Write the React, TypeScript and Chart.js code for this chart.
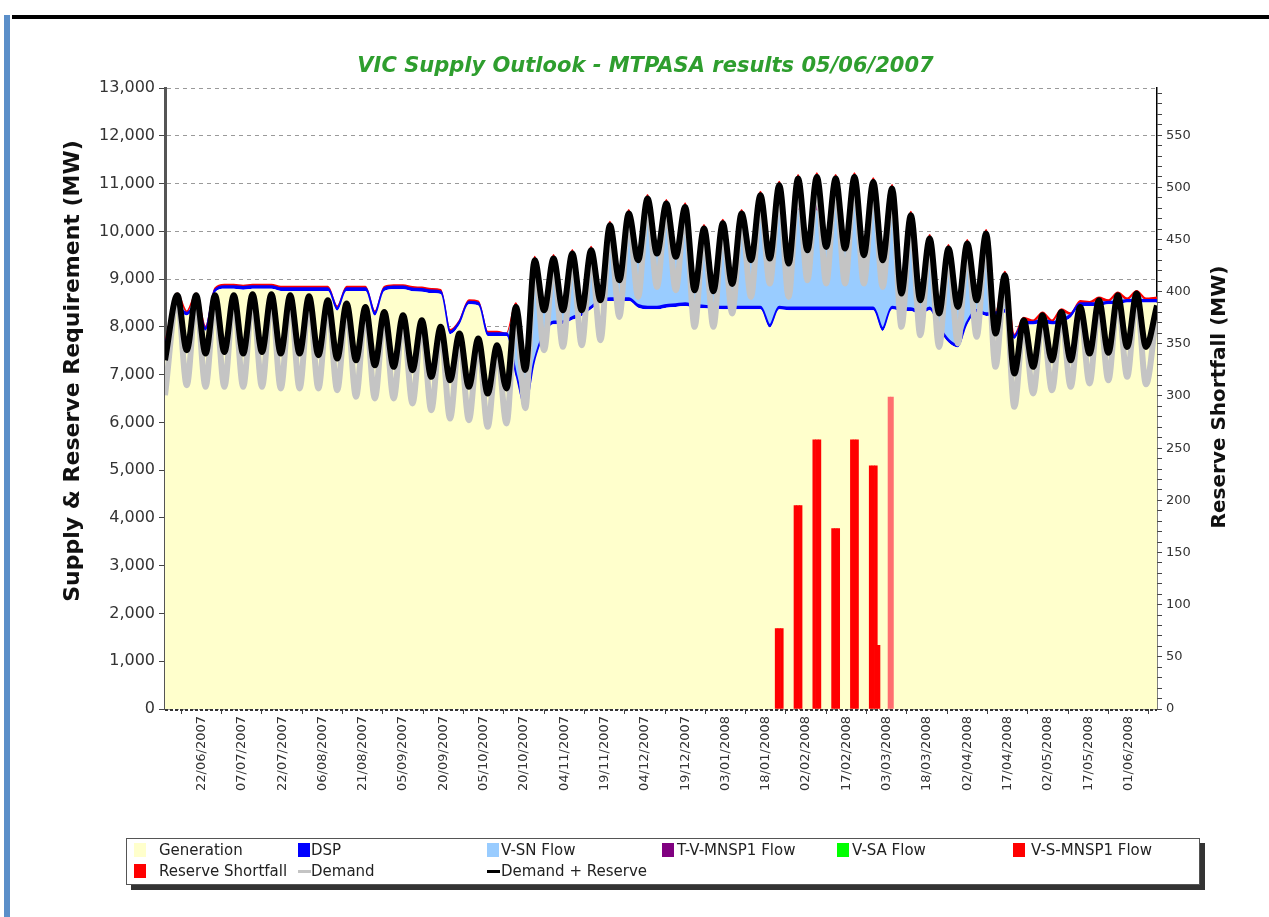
import React, { useEffect, useRef } from 'react';
import { Chart, registerables } from 'chart.js';

Chart.register(...registerables);

// Day index: 0 = 22/06/2007. Two readings per week: weekend trough, mid-week peak.
const pointDays = [
  -13.6, -9, -5.5, -2, 1.5, 5, 8.5, 12, 15.5, 19,
  22.5, 26, 29.5, 33, 36.5, 40, 43.5, 47, 50.5, 54,
  57.5, 61, 64.5, 68, 71.5, 75, 78.5, 82, 85.5, 89,
  92.5, 96, 99.5, 103, 106.5, 110, 113.5, 117, 120.5, 124,
  127.5, 131, 134.5, 138, 141.5, 145, 148.5, 152, 155.5, 159,
  162.5, 166, 169.5, 173, 176.5, 180, 183.5, 187, 190.5, 194,
  197.5, 201, 204.5, 208, 211.5, 215, 218.5, 222, 225.5, 229,
  232.5, 236, 239.5, 243, 246.5, 250, 253.5, 257, 260.5, 264,
  267.5, 271, 274.5, 278, 281.5, 285, 288.5, 292, 295.5, 299,
  302.5, 306, 309.5, 313, 316.5, 320, 323.5, 327, 330.5, 334,
  337.5, 341, 344.5, 348, 351.5, 355.6,
];

const generation = [
  7570, 8350, 8240, 8400, 7920, 8720, 8800, 8800, 8780, 8800,
  8800, 8800, 8755, 8755, 8755, 8755, 8755, 8755, 8343, 8755,
  8755, 8755, 8238, 8755, 8790, 8790, 8750, 8740, 8710, 8690,
  7850, 8050, 8475, 8450, 7813, 7813, 7813, 6950, 6280, 7250,
  7820, 8057, 8057, 8150, 8232, 8370, 8510, 8545, 8545, 8545,
  8405, 8370, 8370, 8405, 8420, 8440, 8405, 8390, 8380, 8370,
  8370, 8370, 8370, 8370, 7987, 8370, 8350, 8350, 8350, 8350,
  8350, 8350, 8350, 8350, 8350, 8350, 7918, 8370, 8336, 8336,
  8250, 8350, 7950, 7673, 7569, 8050, 8301, 8232, 8250, 8300,
  7750, 8050, 8050, 8100, 8050, 8100, 8200, 8440, 8440, 8440,
  8475, 8475, 8510, 8510, 8510, 8510,
];

const dsp = [
  50, 50, 50, 50, 50, 50, 50, 50, 50, 50,
  50, 50, 50, 50, 50, 50, 50, 50, 50, 50,
  50, 50, 50, 50, 50, 50, 50, 50, 50, 50,
  50, 50, 50, 50, 50, 50, 50, 50, 50, 50,
  50, 50, 50, 50, 50, 50, 50, 50, 50, 50,
  50, 50, 50, 50, 50, 50, 50, 50, 50, 50,
  50, 50, 50, 50, 50, 50, 50, 50, 50, 50,
  50, 50, 50, 50, 50, 50, 50, 50, 50, 50,
  50, 50, 50, 50, 50, 50, 50, 50, 50, 50,
  50, 50, 50, 50, 50, 50, 50, 50, 50, 50,
  50, 50, 50, 50, 50, 50,
];

const vsnFlow = [
  0, 265, 0, 215, 0, 0, 0, 0, 0, 0,
  0, 0, 0, 0, 0, 0, 0, 0, 0, 0,
  0, 0, 0, 0, 0, 0, 0, 0, 0, 0,
  0, 0, 0, 0, 0, 0, 0, 1420, 770, 1998,
  481, 1326, 244, 1338, 69, 1187, 0, 1535, 384, 1780,
  943, 1869, 1118, 2129, 1000, 2024, 315, 1621, 320, 1750,
  480, 1955, 978, 1988, 1396, 2047, 928, 2057, 1207, 2042,
  1276, 2157, 1242, 2142, 1103, 2087, 1430, 2028, 314, 1854,
  260, 1451, 282, 1919, 801, 1497, 209, 1524, 0, 734,
  0, 40, 0, 96, 0, 166, 0, 0, 0, 70,
  0, 140, 0, 140, 0, 0,
];

const tvMnsp1Flow = [
  0, 0, 0, 0, 0, 0, 0, 0, 0, 0,
  0, 0, 0, 0, 0, 0, 0, 0, 0, 0,
  0, 0, 0, 0, 0, 0, 0, 0, 0, 0,
  0, 0, 0, 0, 0, 0, 0, 0, 0, 0,
  0, 0, 0, 0, 0, 0, 0, 0, 0, 0,
  0, 400, 0, 0, 0, 0, 0, 0, 0, 0,
  0, 0, 0, 350, 0, 500, 0, 650, 0, 700,
  0, 550, 0, 600, 0, 550, 0, 450, 0, 100,
  0, 0, 0, 0, 0, 150, 0, 0, 0, 0,
  0, 0, 0, 0, 0, 0, 0, 0, 0, 0,
  0, 0, 0, 0, 0, 0,
];

const vsaFlow = [
  0, 0, 0, 0, 0, 0, 0, 0, 0, 0,
  0, 0, 0, 0, 0, 0, 0, 0, 0, 0,
  0, 0, 0, 0, 0, 0, 0, 0, 0, 0,
  0, 0, 0, 0, 0, 0, 0, 0, 0, 100,
  0, 0, 0, 0, 0, 0, 0, 0, 0, 0,
  0, 0, 0, 0, 0, 0, 0, 0, 0, 0,
  0, 0, 0, 0, 0, 0, 0, 0, 0, 0,
  0, 0, 0, 0, 0, 0, 0, 0, 0, 0,
  0, 0, 0, 0, 0, 0, 0, 150, 0, 0,
  0, 0, 0, 0, 0, 0, 0, 0, 0, 0,
  0, 0, 0, 0, 0, 0,
];

const vsMnsp1Flow = [
  40, 40, 40, 40, 40, 40, 40, 40, 40, 40,
  40, 40, 40, 40, 40, 40, 40, 40, 40, 40,
  40, 40, 40, 40, 40, 40, 40, 40, 40, 40,
  40, 40, 40, 40, 40, 40, 0, 80, 0, 80,
  0, 80, 0, 80, 0, 80, 0, 80, 0, 80,
  0, 80, 0, 80, 0, 80, 0, 80, 0, 80,
  0, 80, 0, 80, 0, 80, 0, 80, 0, 80,
  0, 80, 0, 80, 0, 80, 0, 80, 0, 80,
  0, 80, 0, 80, 0, 80, 0, 80, 0, 80,
  40, 60, 40, 60, 40, 60, 40, 60, 40, 60,
  40, 60, 40, 60, 40, 60,
];

const demand = [
  6572, 8605, 6781, 8605, 6747, 8605, 6747, 8605, 6747, 8626,
  6747, 8626, 6712, 8605, 6712, 8584, 6712, 8500, 6677, 8430,
  6537, 8360, 6503, 8256, 6503, 8186, 6398, 8082, 6258, 7942,
  6084, 7803, 6049, 7698, 5909, 7559, 5979, 8360, 6300, 9338,
  7514, 9373, 7584, 9478, 7619, 9547, 7723, 10070, 8211, 10315,
  8630, 10629, 8839, 10524, 8770, 10454, 8002, 10001, 8002, 10110,
  8282, 10315, 8630, 10698, 8909, 10907, 8630, 11047, 8979, 11082,
  8909, 11047, 8909, 11082, 8909, 10977, 8839, 10838, 8002, 10280,
  7828, 9791, 7583, 9582, 7654, 9687, 7793, 9896, 7165, 9024,
  6327, 8082, 6607, 8186, 6677, 8256, 6747, 8360, 6817, 8500,
  6886, 8605, 6956, 8640, 6800, 8390,
];

const demandPlusReserve = [
  7305, 8665, 7514, 8665, 7444, 8665, 7478, 8665, 7444, 8686,
  7478, 8686, 7444, 8665, 7444, 8644, 7409, 8560, 7340, 8490,
  7305, 8420, 7200, 8316, 7165, 8246, 7095, 8142, 6956, 8002,
  6886, 7863, 6747, 7758, 6607, 7619, 6712, 8420, 7100, 9398,
  8351, 9433, 8351, 9538, 8351, 9607, 8560, 10130, 8979, 10375,
  9398, 10689, 9538, 10584, 9470, 10514, 8770, 10061, 8750, 10170,
  8900, 10375, 9398, 10758, 9433, 10967, 9328, 11107, 9607, 11142,
  9676, 11107, 9642, 11142, 9503, 11037, 9398, 10898, 8700, 10340,
  8560, 9851, 8282, 9642, 8420, 9747, 8560, 9956, 7863, 9084,
  7026, 8142, 7165, 8246, 7305, 8316, 7305, 8420, 7444, 8560,
  7460, 8665, 7583, 8700, 7583, 8450,
];

const shortfallDays = [214, 215, 216, 221, 222, 223, 228, 229, 230, 235, 236, 237, 242, 243, 244, 249, 250, 251, 252, 256, 257];
const shortfallValues = [77, 77, 77, 195, 195, 195, 258, 258, 258, 173, 173, 173, 258, 258, 258, 233, 233, 233, 61, 299, 299];

const tickDays = [0, 15, 30, 45, 60, 75, 90, 105, 120, 135, 150, 165, 180, 195, 210, 225, 240, 255, 270, 285, 300, 315, 330, 345];
const tickLabels = [
  '22/06/2007', '07/07/2007', '22/07/2007', '06/08/2007', '21/08/2007', '05/09/2007',
  '20/09/2007', '05/10/2007', '20/10/2007', '04/11/2007', '19/11/2007', '04/12/2007',
  '19/12/2007', '03/01/2008', '18/01/2008', '02/02/2008', '17/02/2008', '03/03/2008',
  '18/03/2008', '02/04/2008', '17/04/2008', '02/05/2008', '17/05/2008', '01/06/2008',
];

const chartTitle = 'VIC Supply Outlook - MTPASA results 05/06/2007';
const leftAxisTitle = 'Supply & Reserve Requirement (MW)';
const rightAxisTitle = 'Reserve Shortfall (MW)';

const COLORS = {
  generation: '#ffffcc',
  dsp: '#0000ff',
  vsn: '#99ccff',
  tvm: '#800080',
  vsa: '#00ff00',
  vsm: '#ff0000',
  shortfall: '#ff0000',
  demand: '#c4c4c4',
  dr: '#000000',
};

const legendItems = [
  { label: 'Generation', color: COLORS.generation, kind: 'box', row: 0, col: 0 },
  { label: 'DSP', color: COLORS.dsp, kind: 'box', row: 0, col: 1 },
  { label: 'V-SN Flow', color: COLORS.vsn, kind: 'box', row: 0, col: 2 },
  { label: 'T-V-MNSP1 Flow', color: COLORS.tvm, kind: 'box', row: 0, col: 3 },
  { label: 'V-SA Flow', color: COLORS.vsa, kind: 'box', row: 0, col: 4 },
  { label: 'V-S-MNSP1 Flow', color: COLORS.vsm, kind: 'box', row: 0, col: 5 },
  { label: 'Reserve Shortfall', color: COLORS.shortfall, kind: 'box', row: 1, col: 0 },
  { label: 'Demand', color: COLORS.demand, kind: 'line', row: 1, col: 1 },
  { label: 'Demand + Reserve', color: COLORS.dr, kind: 'line', row: 1, col: 2 },
];
const legendSwatchX = [7, 171, 360, 535, 710, 886];
const legendTextX = [32, 184, 374, 550, 725, 904];

const toPoints = (arr: number[]) => arr.map((y, i) => ({ x: pointDays[i], y }));

const extrasPlugin = {
  id: 'extras',
  afterDraw(chart: any) {
    const { ctx, chartArea } = chart;
    ctx.save();
    ctx.strokeStyle = '#333';
    ctx.lineWidth = 2;
    ctx.setLineDash([3, 2]);
    ctx.beginPath();
    ctx.moveTo(chartArea.left, chartArea.bottom + 1);
    ctx.lineTo(chartArea.right, chartArea.bottom + 1);
    ctx.stroke();
    ctx.setLineDash([]);
    ctx.fillStyle = '#111';
    ctx.textAlign = 'center';
    ctx.textBaseline = 'middle';
    ctx.save();
    ctx.font = 'bold 22px "DejaVu Sans"';
    ctx.translate(chartArea.left - 92, 371);
    ctx.rotate(-Math.PI / 2);
    ctx.fillText(leftAxisTitle, 0, 0);
    ctx.restore();
    ctx.save();
    ctx.font = 'bold 20px "DejaVu Sans"';
    ctx.translate(chartArea.right + 63, 397);
    ctx.rotate(-Math.PI / 2);
    ctx.fillText(rightAxisTitle, 0, 0);
    ctx.restore();
    ctx.restore();
  },
};

function SupplyChart() {
  const ref = useRef<HTMLCanvasElement | null>(null);
  useEffect(() => {
    if (!ref.current) return;
    const lineBase = {
      type: 'line' as const,
      pointRadius: 0,
      cubicInterpolationMode: 'monotone' as const,
      yAxisID: 'y',
    };
    const chart = new Chart(ref.current, {
      type: 'line',
      data: {
        datasets: [
          { ...lineBase, label: 'Generation', data: toPoints(generation), stack: 'supply', fill: 'origin', backgroundColor: COLORS.generation, borderColor: COLORS.generation, borderWidth: 0, order: 3 },
          { ...lineBase, label: 'DSP', data: toPoints(dsp), stack: 'supply', fill: '-1', backgroundColor: COLORS.dsp, borderColor: COLORS.dsp, borderWidth: 2.5, order: 4 },
          { ...lineBase, label: 'V-SN Flow', data: toPoints(vsnFlow), stack: 'supply', fill: '-1', backgroundColor: COLORS.vsn, borderColor: COLORS.vsn, borderWidth: 0, order: 5 },
          { ...lineBase, label: 'T-V-MNSP1 Flow', data: toPoints(tvMnsp1Flow), stack: 'supply', fill: '-1', backgroundColor: COLORS.tvm, borderColor: COLORS.tvm, borderWidth: 0, order: 6 },
          { ...lineBase, label: 'V-SA Flow', data: toPoints(vsaFlow), stack: 'supply', fill: '-1', backgroundColor: COLORS.vsa, borderColor: COLORS.vsa, borderWidth: 0, order: 7 },
          { ...lineBase, label: 'V-S-MNSP1 Flow', data: toPoints(vsMnsp1Flow), stack: 'supply', fill: '-1', backgroundColor: COLORS.vsm, borderColor: COLORS.vsm, borderWidth: 1.5, order: 8 },
          {
            type: 'bar', label: 'Reserve Shortfall', yAxisID: 'y1',
            data: shortfallDays.map((d, i) => ({ x: d, y: shortfallValues[i] })),
            backgroundColor: shortfallDays.map((d) => (d >= 256 ? '#ff6f6f' : COLORS.shortfall)),
            borderWidth: 0, barPercentage: 1, categoryPercentage: 1, order: 2,
          } as any,
          { ...lineBase, label: 'Demand', data: toPoints(demand), stack: 'demand', fill: false, borderColor: COLORS.demand, borderWidth: 6, order: 1 },
          { ...lineBase, label: 'Demand + Reserve', data: toPoints(demandPlusReserve), stack: 'dr', fill: false, borderColor: COLORS.dr, borderWidth: 6, order: 0 },
        ] as any,
      },
      options: {
        animation: false,
        responsive: false,
        events: [],
        layout: { padding: { left: 57, right: 35, top: 40, bottom: 0 } },
        plugins: {
          legend: { display: false },
          tooltip: { enabled: false },
          title: {
            display: true,
            text: chartTitle,
            color: '#2e9e2e',
            font: { family: 'DejaVu Sans', size: 21, weight: 'bold', style: 'italic' },
            padding: { top: 14, bottom: 9 },
          },
        },
        scales: {
          x: {
            type: 'linear',
            min: -13.6,
            max: 355.6,
            offset: false,
            afterBuildTicks: (axis: any) => {
              axis.ticks = tickDays.map((v) => ({ value: v }));
            },
            afterFit: (s: any) => { s.height = 208; },
            ticks: {
              autoSkip: false,
              maxRotation: 90,
              minRotation: 90,
              padding: 2,
              color: '#333',
              font: { family: 'DejaVu Sans', size: 13 },
              callback: (_v: any, i: number) => tickLabels[i],
            },
            grid: { drawOnChartArea: false, drawTicks: true, tickLength: 5, tickColor: '#444' },
            border: { display: false },
          },
          y: {
            stacked: true,
            min: 0,
            max: 13000,
            afterFit: (s: any) => { s.width = 108; },
            ticks: {
              stepSize: 1000,
              padding: 4,
              color: '#333',
              font: { family: 'DejaVu Sans', size: 16 },
              callback: (v: any) => Number(v).toLocaleString('en-US'),
            },
            grid: { color: '#9a9a9a', tickLength: 6, tickColor: '#444', lineWidth: 1 },
            border: { color: '#555', width: 3, dash: [4, 4] },
          },
          y1: {
            position: 'right',
            min: 0,
            max: 595,
            afterFit: (s: any) => { s.width = 77; },
            ticks: {
              stepSize: 10,
              includeBounds: false,
              autoSkip: false,
              padding: 4,
              color: '#333',
              font: { family: 'DejaVu Sans', size: 13 },
              callback: (v: any) => (Number(v) % 50 === 0 ? String(v) : ''),
            },
            grid: { drawOnChartArea: false, tickLength: 5, tickColor: '#444' },
            border: { color: '#000', width: 1.5 },
          },
        },
      } as any,
      plugins: [extrasPlugin],
    });
    return () => chart.destroy();
  }, []);
  return <canvas ref={ref} width={1269} height={917} style={{ position: 'absolute', left: 0, top: 0 }} />;
}

export default function App() {
  return (
    <div style={{ position: 'fixed', left: 0, top: 0, width: 1269, height: 917, background: '#fff', overflow: 'hidden' }}>
      <div style={{ position: 'absolute', left: 4, top: 15, width: 6, height: 902, background: '#5b8fc9' }} />
      <div style={{ position: 'absolute', left: 12, top: 15, width: 1257, height: 4, background: '#000' }} />
      <SupplyChart />
      <div
        style={{
          position: 'absolute', left: 126, top: 838, width: 1072, height: 45,
          border: '1px solid #555', background: '#fff', boxShadow: '5px 5px 0 #333',
          fontFamily: '"DejaVu Sans", sans-serif', fontSize: 15, color: '#222',
        }}
      >
        {legendItems.map((it) => (
          <React.Fragment key={it.label}>
            {it.kind === 'box' ? (
              <span style={{ position: 'absolute', left: legendSwatchX[it.col], top: it.row === 0 ? 4 : 25, width: 12, height: 14, background: it.color }} />
            ) : (
              <span style={{ position: 'absolute', left: legendSwatchX[it.col], top: it.row === 0 ? 10 : 31, width: 13, height: 3, background: it.color }} />
            )}
            <span style={{ position: 'absolute', left: legendTextX[it.col], top: it.row === 0 ? 2 : 23, lineHeight: '18px', whiteSpace: 'nowrap' }}>{it.label}</span>
          </React.Fragment>
        ))}
      </div>
    </div>
  );
}
